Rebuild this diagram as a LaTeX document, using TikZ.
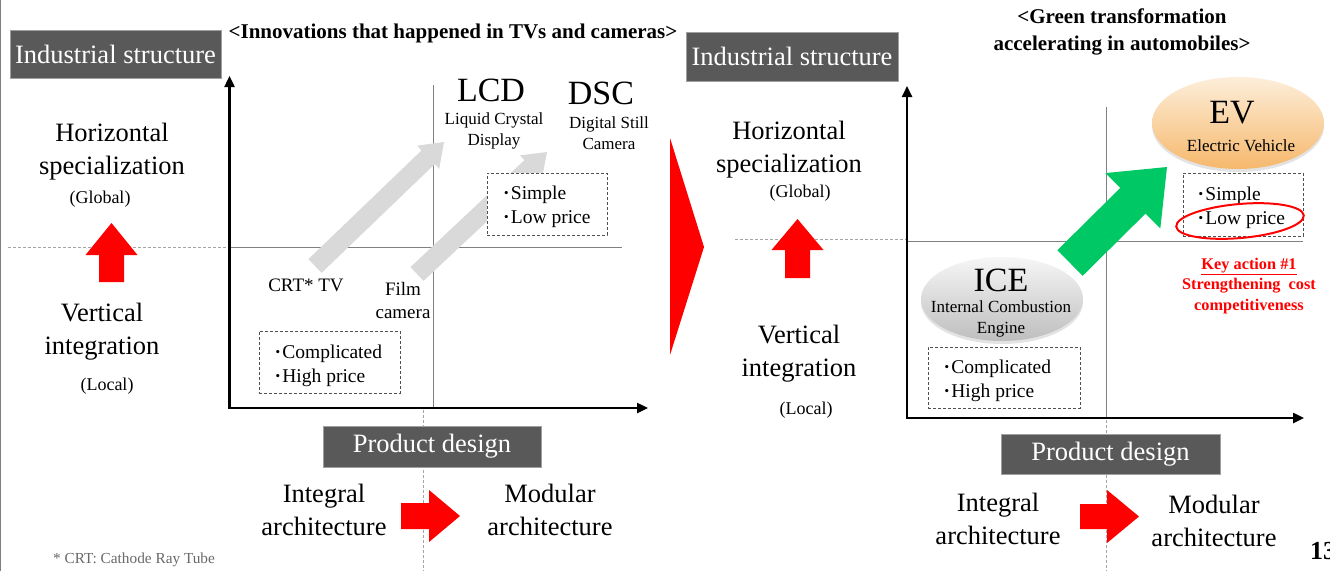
\documentclass[tikz,border=0pt]{standalone}
\usepackage{fontspec}
\setmainfont{Liberation Serif}
\usetikzlibrary{arrows.meta,calc,shapes.geometric,shadows}
\definecolor{lbl}{RGB}{89,89,89}
\definecolor{lblborder}{RGB}{160,160,160}
\definecolor{arrgray}{RGB}{217,217,217}
\definecolor{grn}{RGB}{0,200,100}
\definecolor{thinline}{RGB}{128,128,128}
\definecolor{guidecol}{RGB}{165,165,165}
\definecolor{boxdash}{RGB}{80,80,80}
\definecolor{evtop}{RGB}{253,238,218}
\definecolor{evbot}{RGB}{246,184,108}
\definecolor{icetop}{RGB}{246,246,246}
\definecolor{icebot}{RGB}{190,190,190}
\definecolor{footcol}{RGB}{105,105,105}
\definecolor{keyred}{RGB}{255,0,0}
\newcommand{\fs}[2]{\fontsize{#1}{#2}\selectfont}
\newcommand{\bul}{{\bfseries ·}\kern1.2pt}
\newcommand{\blkarrow}[6]{%
  \coordinate (bk-n) at ($(#3)!#6!(#2)$);
  \fill[#1] ($(#2)!#4!90:(#3)$) -- ($(bk-n)!#4!90:(#3)$) -- ($(bk-n)!#5!90:(#3)$) -- (#3)
    -- ($(bk-n)!#5!-90:(#3)$) -- ($(bk-n)!#4!-90:(#3)$) -- ($(#2)!#4!-90:(#3)$) -- cycle;}
\tikzset{
  lblbox/.style={fill=lbl, draw=lblborder, line width=1pt, text=white, font=\fs{26.5}{32}, inner sep=0pt},
  big/.style={font=\fs{26.5}{33}, align=center, inner sep=0pt},
  paren/.style={font=\fs{18}{22}, inner sep=0pt},
  acr/.style={font=\fs{34}{40}, inner sep=0pt},
  sub/.style={font=\fs{17}{21}, align=center, inner sep=0pt},
  item/.style={font=\fs{19}{23}, align=center, inner sep=0pt},
  dbox/.style={draw=boxdash, dash pattern=on 3pt off 2pt, line width=0.9pt, fill=white, inner sep=0pt},
  btext/.style={font=\fs{19.5}{24}, align=left, inner sep=0pt, anchor=west},
  axis/.style={line width=2.4pt, -{Triangle[length=11pt,width=10pt]}},
  quad/.style={draw=thinline, line width=0.8pt},
  guide/.style={draw=guidecol, line width=0.9pt, dash pattern=on 3pt off 2pt},
  ttl/.style={font=\bfseries\fs{21}{27}, align=center, inner sep=0pt},
}
\begin{document}
\begin{tikzpicture}[x=1pt,y=-1pt]
\useasboundingbox (0,0) rectangle (1330,571);
\fill[white] (0,0) rectangle (1330,571);
\draw[thinline, line width=0.8pt] (0.5,0) -- (0.5,571);

% ---------------- left panel ----------------
\node[ttl] (t1) at (453,33) {<Innovations that happened in TVs and cameras>};
\node[lblbox, minimum width=211pt, minimum height=48pt] (is1) at (115.5,54) {Industrial structure};

\coordinate (o1) at (229.5,408);
\coordinate (y1) at (229.5,76);
\coordinate (x1) at (648,408);
\coordinate (qv1a) at (433.5,85);
\coordinate (qv1b) at (433.5,408);
\coordinate (qh1a) at (229.5,247);
\coordinate (qh1b) at (622,247);
\coordinate (gd1a) at (8,247);
\coordinate (gv1a) at (423,410);
\coordinate (gv1b) at (423,571);
\draw[quad] (qv1a) -- (qv1b);
\draw[quad] (qh1a) -- (qh1b);
\draw[guide] (gd1a) -- (qh1a);
\draw[guide] (gv1a) -- (gv1b);

\coordinate (g1t) at (315,266); \coordinate (g1h) at (444,142);
\coordinate (g2t) at (417,274); \coordinate (g2h) at (547,152);
\blkarrow{arrgray}{g1t}{g1h}{9.5pt}{16pt}{22pt}
\blkarrow{arrgray}{g2t}{g2h}{9.5pt}{16pt}{22pt}

\draw[axis] (o1) -- (y1);
\draw[axis] ($(o1)+(-1.2,0)$) -- (x1);

\node[big] (hs1) at (112,151.5) {Horizontal\\specialization};
\node[paren] (gl1) at (100,199) {(Global)};
\node[big] (vi1) at (102,331.5) {Vertical\\integration};
\node[paren] (lo1) at (107,386) {(Local)};

\coordinate (ru1t) at (111.5,282); \coordinate (ru1h) at (111.5,223);
\blkarrow{red}{ru1t}{ru1h}{12.5pt}{26pt}{32pt}

\node[acr] (lcd) at (491,90) {LCD};
\node[sub] (lcdt) at (494,130.5) {Liquid Crystal\\Display};
\node[acr] (dsc) at (601,93) {DSC};
\node[sub] (dsct) at (609,133) {Digital Still\\Camera};

\node[item] (crt) at (306,285) {CRT* TV};
\node[item] (film) at (403,300) {Film\\camera};

\node[dbox, minimum width=120pt, minimum height=62pt] (sp1) at (547,204) {};
\node[btext] (sp1t) at (503,207) {\bul Simple\\\bul Low price};
\node[dbox, minimum width=141pt, minimum height=62pt] (cp1) at (329.5,362) {};
\node[btext] (cp1t) at (274.5,365.5) {\bul Complicated\\\bul High price};

\node[lblbox, minimum width=218pt, minimum height=41pt] (pd1) at (432,446.5) {Product design};
\node[big] (ia1) at (324,510) {Integral\\architecture};
\node[big] (ma1) at (550,510) {Modular\\architecture};
\coordinate (rr1t) at (401,516); \coordinate (rr1h) at (460,516);
\blkarrow{red}{rr1t}{rr1h}{13pt}{26pt}{31pt}

\node[font=\fs{15.3}{17}, text=footcol, inner sep=0pt] (fn) at (134,560) {* CRT: Cathode Ray Tube};

% ---------------- middle chevron ----------------
\coordinate (c1) at (670,138);
\coordinate (c2) at (704,247);
\coordinate (c3) at (670,355);
\fill[red] (c1) -- (c2) -- (c3) -- cycle;

% ---------------- right panel ----------------
\node[ttl] (t2) at (1122,31.5) {<Green transformation\\accelerating in automobiles>};
\node[lblbox, minimum width=212pt, minimum height=49pt] (is2) at (792,56.5) {Industrial structure};

\coordinate (o2) at (907,418);
\coordinate (y2) at (907,86);
\coordinate (x2) at (1304,418);
\coordinate (qv2a) at (1106.5,107);
\coordinate (qv2b) at (1106.5,418);
\coordinate (qh2a) at (907,241);
\coordinate (qh2b) at (1303,241);
\coordinate (gd2a) at (735,239);
\coordinate (gd2b) at (907,239);
\coordinate (gv2a) at (1106,420);
\coordinate (gv2b) at (1106,571);
\draw[quad] (qv2a) -- (qv2b);
\draw[quad] (qh2a) -- (qh2b);
\draw[guide] (gd2a) -- (gd2b);
\draw[guide] (gv2a) -- (gv2b);

\draw[axis] (o2) -- (y2);
\draw[axis] ($(o2)+(-1.2,0)$) -- (x2);

\node[big] (hs2) at (789,150) {Horizontal\\specialization};
\node[paren] (gl2) at (800,193) {(Global)};
\node[big] (vi2) at (799,353.5) {Vertical\\integration};
\node[paren] (lo2) at (806,410) {(Local)};

\coordinate (ru2t) at (797.5,278); \coordinate (ru2h) at (797.5,219);
\blkarrow{red}{ru2t}{ru2h}{12.5pt}{26pt}{31pt}

\node[ellipse, minimum width=162pt, minimum height=84pt, inner sep=0pt, top color=icetop, bottom color=icebot,
      drop shadow={opacity=0.22, shadow xshift=0pt, shadow yshift=-3pt}] (ice) at (1002,299) {};
\node[acr] (icel) at (1001,280) {ICE};
\node[sub] (icet) at (1001,318.5) {Internal Combustion\\Engine};

\node[ellipse, minimum width=172pt, minimum height=92pt, inner sep=0pt, top color=evtop, bottom color=evbot,
      drop shadow={opacity=0.22, shadow xshift=0pt, shadow yshift=-3pt}] (ev) at (1238,123) {};
\node[acr] (evl) at (1232,113) {EV};
\node[sub] (evt) at (1241,146) {Electric Vehicle};

\coordinate (gt) at (1070,263); \coordinate (gh) at (1167,167);
\blkarrow{grn}{gt}{gh}{18pt}{39pt}{48pt}

\node[dbox, minimum width=152pt, minimum height=61pt] (cp2) at (1004,377.5) {};
\node[btext] (cp2t) at (943.5,380.5) {\bul Complicated\\\bul High price};
\node[dbox, minimum width=120pt, minimum height=63pt] (sp2) at (1243,204.5) {};
\node[btext] (sp2t) at (1197.5,207.5) {\bul Simple\\\bul Low price};
\draw[red, line width=2pt] (1240,221) ellipse [x radius=64, y radius=17, rotate=5];

\node[font=\bfseries\fs{16.3}{20.5}, text=keyred, align=center, inner sep=0pt] (key) at (1249,286) {\underline{Key action \#1}\\Strengthening\ \ cost\\competitiveness};

\node[lblbox, minimum width=219pt, minimum height=40pt] (pd2) at (1110.5,454) {Product design};
\node[big] (ia2) at (998,519) {Integral\\architecture};
\node[big] (ma2) at (1214,520.5) {Modular\\architecture};
\coordinate (rr2t) at (1080,516.5); \coordinate (rr2h) at (1139,516.5);
\blkarrow{red}{rr2t}{rr2h}{12.5pt}{26.5pt}{32pt}

\node[font=\bfseries\fs{26}{30}, anchor=west, inner sep=0pt] (pg) at (1310,551) {13};
\end{tikzpicture}
\end{document}
